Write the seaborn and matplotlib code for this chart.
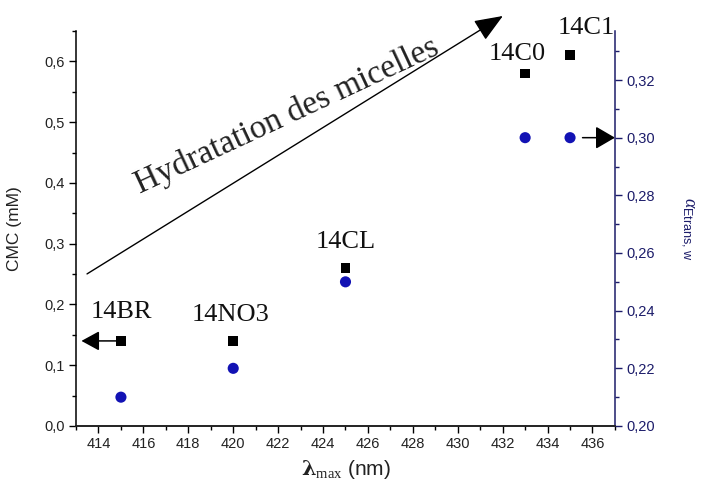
import matplotlib
matplotlib.use("Agg")
import matplotlib.pyplot as plt
import pandas as pd
import seaborn as sns
from matplotlib.ticker import MultipleLocator, FuncFormatter

# Surfactant series: absorption maximum, CMC and trans fraction
samples = ["14BR", "14NO3", "14CL", "14C0", "14C1"]
lambda_max = [415, 420, 425, 433, 435]
cmc_mM = [0.14, 0.14, 0.26, 0.58, 0.61]
alpha_trans = [0.21, 0.22, 0.25, 0.30, 0.30]

# label offsets (points) from each CMC marker
label_offsets = [(0, 21), (-2, 19), (0, 19), (-6, 14), (12, 20)]

sns.set_theme(style="ticks")
plt.rcParams["font.family"] = ["Liberation Sans", "DejaVu Sans"]
plt.rcParams["mathtext.fontset"] = "custom"
plt.rcParams["mathtext.rm"] = "Liberation Serif"
plt.rcParams["mathtext.it"] = "Liberation Serif:italic"
plt.rcParams["mathtext.bf"] = "DejaVu Serif:bold"
plt.rcParams["mathtext.sf"] = "Liberation Sans"

NAVY = "#1c1c6a"
BLUE = "#1212b4"

df = pd.DataFrame({"sample": samples, "lam": lambda_max,
                   "cmc": cmc_mM, "alpha": alpha_trans})

fig = plt.figure(figsize=(7.02, 4.95), dpi=100)
ax = fig.add_axes([0.1083, 0.1394, 0.876 - 0.1083, 0.9374 - 0.1394])
ax2 = ax.twinx()

sns.scatterplot(data=df, x="lam", y="cmc", ax=ax, marker="s", color="black",
                s=48, edgecolor="none", zorder=3, legend=False)
sns.scatterplot(data=df, x="lam", y="alpha", ax=ax2, marker="o", color=BLUE,
                s=64, edgecolor="none", zorder=3, legend=False)

ax.set_xlim(413, 437)
ax.set_ylim(0, 0.65)
ax2.set_ylim(0.20, 0.337)

# spines
for a in (ax, ax2):
    a.spines["top"].set_visible(False)
ax.spines["right"].set_visible(False)
ax2.spines["left"].set_visible(False)
ax2.spines["right"].set_color(NAVY)
for s in ("left", "bottom"):
    ax.spines[s].set_color("black")
    ax.spines[s].set_linewidth(1.1)
ax2.spines["right"].set_linewidth(1.1)

# ticks
ax.xaxis.set_major_locator(MultipleLocator(2))
ax.xaxis.set_minor_locator(MultipleLocator(1))
ax.yaxis.set_major_locator(MultipleLocator(0.1))
ax.yaxis.set_minor_locator(MultipleLocator(0.05))
ax2.yaxis.set_major_locator(MultipleLocator(0.02))
ax2.yaxis.set_minor_locator(MultipleLocator(0.01))

ax.xaxis.set_major_formatter(FuncFormatter(lambda v, p: f"{v:.0f}"))
ax.yaxis.set_major_formatter(FuncFormatter(lambda v, p: f"{v:.1f}".replace(".", ",")))
ax2.yaxis.set_major_formatter(FuncFormatter(lambda v, p: f"{v:.2f}".replace(".", ",")))

ax.tick_params(axis="both", which="major", direction="out", length=5, width=1,
               color="black", labelsize=10.5, labelcolor="#222222", pad=3)
ax.tick_params(axis="both", which="minor", direction="out", length=3, width=1,
               color="black")
ax.tick_params(axis="x", which="both", bottom=True)
ax.tick_params(axis="y", which="both", left=True)
ax2.tick_params(axis="y", which="major", direction="out", length=5, width=1,
                color=NAVY, labelsize=10.5, labelcolor=NAVY, pad=3)
ax2.tick_params(axis="y", which="minor", direction="out", length=3, width=1,
                color=NAVY)

ax.set_xlabel(r"$\mathbf{\lambda}_{\mathrm{max}}$ (nm)", fontsize=15, labelpad=5,
              color="#222222")
ax.set_ylabel("CMC (mM)", fontsize=12.5, labelpad=16, color="#222222")
ax2.set_ylabel(r"$\alpha_{\mathsf{Etrans,\,w}}$", fontsize=13, color=NAVY,
               rotation=270, labelpad=30)

# sample labels
for name, x, y, off in zip(samples, lambda_max, cmc_mM, label_offsets):
    ax.annotate(name, xy=(x, y), xytext=off, textcoords="offset points",
                ha="center", va="center", fontsize=19,
                family="Liberation Serif", color="#111111")

# arrows pointing each series to its own axis
ax.annotate("", xy=(0.01, cmc_mM[0]), xycoords=ax.get_yaxis_transform(),
            xytext=(lambda_max[0], cmc_mM[0]), textcoords="data",
            arrowprops=dict(arrowstyle="-|>,head_length=0.55,head_width=0.3",
                            mutation_scale=20, color="black", lw=1.1,
                            shrinkA=0, shrinkB=0), zorder=2)
ax2.annotate("", xy=(1.0, alpha_trans[-1]), xycoords=ax2.get_yaxis_transform(),
             xytext=(lambda_max[-1], alpha_trans[-1]), textcoords="data",
             arrowprops=dict(arrowstyle="-|>,head_length=0.6,head_width=0.35",
                             mutation_scale=20, color="black", lw=1.1,
                             shrinkA=9, shrinkB=0), zorder=2)

# hydration trend arrow
ax.annotate("", xy=(0.792, 1.038), xycoords="axes fraction",
            xytext=(0.0204, 0.385), textcoords="axes fraction",
            arrowprops=dict(arrowstyle="-|>,head_length=0.8,head_width=0.32",
                            mutation_scale=22, color="black", lw=1.0,
                            shrinkA=0, shrinkB=0),
            annotation_clip=False)
ax.text(0.392, 0.785, "Hydratation des micelles", transform=ax.transAxes,
        rotation=25, rotation_mode="anchor", ha="center", va="center",
        fontsize=24, family="Liberation Serif", color="#222222")

fig.savefig("out.png", dpi=100)
